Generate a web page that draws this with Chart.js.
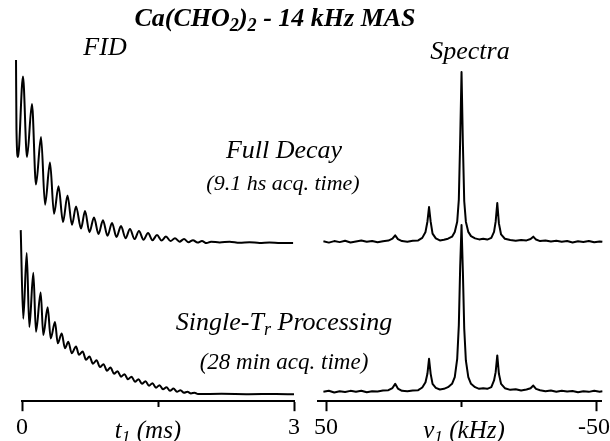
<!DOCTYPE html>
<html>
<head>
<meta charset="utf-8">
<title>Ca(CHO2)2 - 14 kHz MAS</title>
<script src="https://cdn.jsdelivr.net/npm/chart.js@4.4.1/dist/chart.umd.min.js"></script>
<style>
    html, body { margin: 0; padding: 0; background: #fff; }
    body { width: 610px; height: 441px; position: relative; overflow: hidden; font-family: 'Liberation Serif', 'Times New Roman', serif; }
    #fidChart { position: absolute; left: 0; top: 0; }
    #specChart { position: absolute; left: 300px; top: 0; }
    .lbl { position: absolute; transform: translate(-50%, -50%); white-space: nowrap; font-style: italic; line-height: 1; color: #000; }
    .lbl sub { font-size: 70%; vertical-align: -0.25em; line-height: 0; }
</style>
</head>
<body>
<canvas id="fidChart" width="305" height="444"></canvas>
<canvas id="specChart" width="320" height="444"></canvas>

<div class="lbl" style="left:275px; top:18px; font-size:26px; font-weight:bold;">Ca(CHO<sub>2</sub>)<sub>2</sub> - 14 kHz MAS</div>
<div class="lbl" style="left:105px; top:47px; font-size:26px;">FID</div>
<div class="lbl" style="left:470px; top:51px; font-size:26px;">Spectra</div>
<div class="lbl" style="left:284px; top:150px; font-size:26px;">Full Decay</div>
<div class="lbl" style="left:283px; top:183px; font-size:22px;">(9.1 hs acq. time)</div>
<div class="lbl" style="left:284px; top:322px; font-size:26px;">Single-T<sub>r</sub> Processing</div>
<div class="lbl" style="left:284px; top:361px; font-size:23px;">(28 min acq. time)</div>
<div class="lbl" style="left:148px; top:429px; font-size:25px;">t<sub>1</sub> (ms)</div>
<div class="lbl" style="left:464px; top:429px; font-size:25px;">&nu;<sub>1</sub> (kHz)</div>

<script>
// FID traces: time (ms) and signal (0 = baseline, 100 = first point)
const FID_TOP_T = [-0.066, -0.061, -0.044, 0.011, 0.055, 0.110, 0.154, 0.210, 0.254, 0.309, 0.353, 0.403, 0.452,
    0.502, 0.551, 0.596, 0.651, 0.695, 0.744, 0.794, 0.844, 0.893, 0.943, 0.993, 1.042, 1.092, 1.142, 1.191, 1.241,
    1.290, 1.340, 1.390, 1.439, 1.489, 1.539, 1.588, 1.638, 1.687, 1.737, 1.787, 1.836, 1.886, 1.936, 1.985, 2.035,
    2.085, 2.18, 2.29, 2.40, 2.51, 2.62, 2.73, 2.85, 2.99];
const FID_TOP = [100, 62, 47, 91, 47, 76, 32, 58, 21, 44, 16, 31, 11.5,
    26, 10, 20, 8, 17.5, 6, 14, 5, 12.5, 4, 11, 3.3, 9.3, 2.7, 7.7, 2.2,
    6.6, 1.9, 5.5, 1.6, 4.4, 1.4, 3.6, 1.1, 2.7, 0.8, 2.2, 0.5, 1.6, 0.3, 1.1, 0,
    0.8, 0.3, 0.8, 0.2, 0.5, 0.1, 0.3, 0, 0];

const FID_BOT_T = [-0.014, 0.014, 0.052, 0.081, 0.125, 0.154, 0.206, 0.235, 0.283, 0.317, 0.364, 0.394, 0.438,
    0.474, 0.511, 0.548, 0.596, 0.629, 0.669, 0.706, 0.744, 0.783, 0.822, 0.860, 0.899, 0.937, 0.976, 1.015, 1.053,
    1.092, 1.130, 1.169, 1.208, 1.246, 1.285, 1.323, 1.362, 1.401, 1.439, 1.478, 1.517, 1.555, 1.594, 1.632, 1.671,
    1.709, 1.748, 1.787, 1.825, 1.864, 1.903, 1.941, 2.2, 2.5, 2.8, 3.0];
const FID_BOT = [100, 46, 86, 41, 74, 38, 62, 36, 53, 34, 44, 31, 37,
    28, 32, 25, 29, 24, 26, 21, 23, 18.6, 20.7, 16.5, 18.3, 14.3, 16.2, 12.5, 14,
    10.7, 12.2, 9.1, 10.7, 7.6, 9.1, 6.4, 7.9, 5.2, 6.7, 4, 5.5, 3, 4.3, 2.1, 3.4,
    1.5, 2.4, 0.9, 1.5, 0.5, 0.9, 0.1, 0.2, 0, 0.1, 0];

// Spectra: frequency (kHz) and intensity (0 = baseline, 100 = centre band)
const SPEC_KHZ = [51, 49, 47, 45, 43, 41, 39, 37, 35, 33, 31, 29, 27, 25.5, 24.5, 23.5, 22, 20, 18, 16,
    14.5, 13.3, 12.6, 12, 11.4, 10.7, 9.5, 8, 6.5, 5, 3.5, 2.5, 1.6, 1, 0.5, 0, -0.5, -1, -1.6, -2.5,
    -3.5, -5, -6.5, -8, -9.5, -11, -12, -12.6, -13.2, -13.8, -14.6, -16, -18, -20, -22, -24, -25.5, -26.5, -27.5, -29,
    -31, -33, -35, -37, -39, -41, -43, -45, -47, -49, -51, -52];
const SPEC_FULL = [0.5, -0.3, 0.6, 0.0, 0.8, -0.2, 0.4, 1.0, 0.2, 0.7, -0.1, 0.5, 0.9, 2.0, 4.0, 1.8, 0.6, 0.2, 0.8, 1.0,
    2.5, 6, 12, 20.6, 12, 5, 2.2, 1.0, 1.4, 2.0, 3.2, 6, 12, 25, 60, 100, 58, 24, 12, 6,
    3.5, 2.2, 1.6, 2.0, 1.5, 2.5, 6, 12, 23, 11, 4.5, 2.0, 1.2, 0.8, 1.3, 1.0, 1.8, 3.2, 1.5, 0.6,
    1.0, 0.3, 0.8, 0.2, 0.6, -0.2, 0.5, 0.1, 0.7, -0.1, 0.4, 0.2];
const SPEC_SINGLE = [0.3, 0.9, -0.2, 0.6, 0.1, 0.8, 0.3, 0.9, 0.0, 0.6, 0.4, 1.0, 1.2, 2.5, 5, 2.2, 0.8, 0.5, 1.0, 1.2,
    2.8, 6, 11, 20, 11, 5, 2.6, 1.6, 2.0, 3.0, 5, 9, 20, 40, 75, 100, 72, 38, 19, 9,
    5, 3, 2, 2.4, 2.0, 3, 7, 12, 22, 11, 5, 2.4, 1.4, 1.8, 1.0, 1.6, 2.4, 4, 2.0, 1.2,
    0.6, 1.0, 0.3, 0.9, 0.4, 0.7, 0.0, 0.6, 0.2, 0.8, 0.3, 0.5];

// Axis ticks
const FID_TICKS = [0, 1.5, 3];
const FID_TICK_LABELS = ['0', '', '3'];
const SPEC_TICKS = [50, 0, -50];
const SPEC_TICK_LABELS = ['50', '', '-50'];

document.addEventListener('DOMContentLoaded', function() {
    const AREA_TOP = 40;
    const AREA_BOTTOM = 401;
    const FONT = 'Liberation Serif';

    // y range so that 0 sits at zeroPx and 100 at fullPx inside the plot area
    function yRange(zeroPx, fullPx) {
        const perPx = 100 / (zeroPx - fullPx);
        return {
            min: -(AREA_BOTTOM - zeroPx) * perPx,
            max: 100 + (fullPx - AREA_TOP) * perPx
        };
    }

    function toPoints(xs, ys) {
        return xs.map((x, i) => ({ x: x, y: ys[i] }));
    }

    function trace(xs, ys, axisId, smooth) {
        return {
            data: toPoints(xs, ys),
            yAxisID: axisId,
            borderColor: '#000',
            borderWidth: 2,
            borderJoinStyle: 'round',
            pointRadius: 0,
            fill: false,
            clip: false,
            tension: 0,
            cubicInterpolationMode: smooth ? 'monotone' : 'default'
        };
    }

    function xAxis(min, max, ticks, labels, midValue, reverse) {
        return {
            type: 'linear',
            bounds: 'data',
            reverse: reverse,
            // range set here (not via min/max) so points just outside still get drawn
            afterDataLimits: axis => { axis.min = min; axis.max = max; },
            afterBuildTicks: axis => { axis.ticks = ticks.map(v => ({ value: v })); },
            border: { display: true, color: '#000', width: 2 },
            grid: {
                display: true,
                drawOnChartArea: false,
                drawTicks: true,
                tickLength: 10,
                tickWidth: 2,
                tickColor: '#000',
                // middle tick is shorter
                tickBorderDash: ctx => (ctx.tick && ctx.tick.value === midValue) ? [5, 30] : []
            },
            ticks: {
                autoSkip: false,
                maxRotation: 0,
                padding: 2,
                color: '#000',
                font: { family: FONT, size: 24 },
                callback: (value, index) => index === labels.length - 1 && reverse ? labels[index] + '\u00a0' : labels[index]
            }
        };
    }

    const common = {
        responsive: false,
        animation: false,
        events: [],
        plugins: { legend: { display: false }, tooltip: { enabled: false } }
    };

    const fidTop = yRange(243, 60);
    const fidBot = yRange(394, 230);
    new Chart(document.getElementById('fidChart'), {
        type: 'line',
        data: {
            datasets: [
                trace(FID_TOP_T, FID_TOP, 'yTop', true),
                trace(FID_BOT_T, FID_BOT, 'yBot', true)
            ]
        },
        options: Object.assign({}, common, {
            layout: { padding: { left: 22, right: 11, top: AREA_TOP, bottom: 0 } },
            scales: {
                x: xAxis(0, 3, FID_TICKS, FID_TICK_LABELS, 1.5, false),
                yTop: { display: false, min: fidTop.min, max: fidTop.max },
                yBot: { display: false, min: fidBot.min, max: fidBot.max }
            }
        })
    });

    const specTop = yRange(242, 72);
    const specBot = yRange(392, 225);
    new Chart(document.getElementById('specChart'), {
        type: 'line',
        data: {
            datasets: [
                trace(SPEC_KHZ, SPEC_FULL, 'yTop', false),
                trace(SPEC_KHZ, SPEC_SINGLE, 'yBot', false)
            ]
        },
        options: Object.assign({}, common, {
            layout: { padding: { left: 18, right: 19, top: AREA_TOP, bottom: 0 } },
            scales: {
                x: xAxis(-51.5, 53, SPEC_TICKS, SPEC_TICK_LABELS, 0, true),
                yTop: { display: false, min: specTop.min, max: specTop.max },
                yBot: { display: false, min: specBot.min, max: specBot.max }
            }
        })
    });
});
</script>
</body>
</html>
